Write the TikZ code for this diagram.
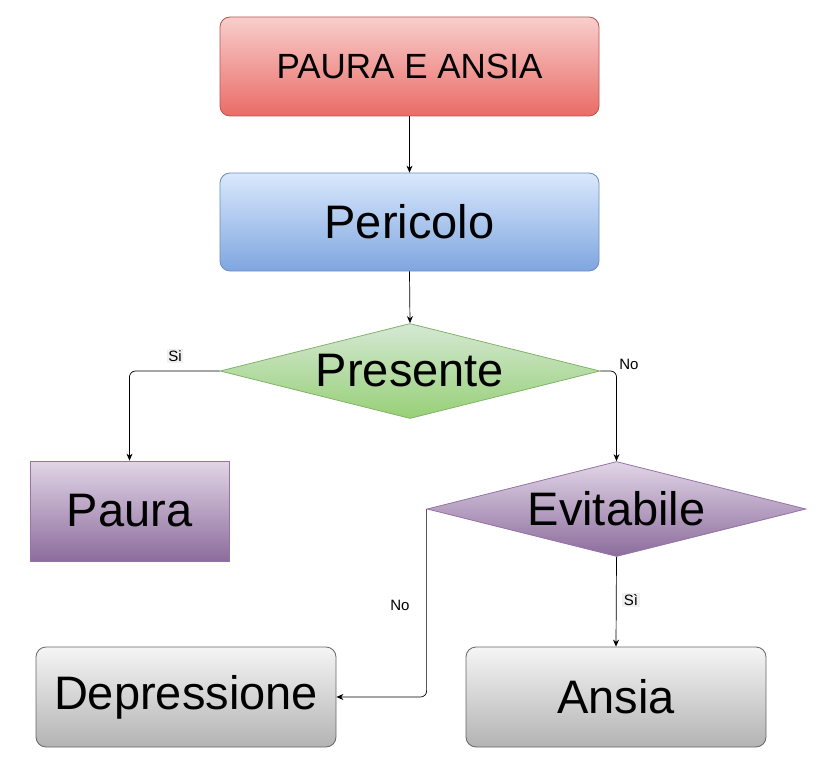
\documentclass[tikz,border=0pt]{standalone}
\usepackage{fontspec}
\setmainfont{Liberation Sans}
\usetikzlibrary{shapes.geometric,arrows.meta}
\definecolor{redT}{HTML}{F8CECC}\definecolor{redB}{HTML}{EA6B66}\definecolor{redS}{HTML}{B85450}
\definecolor{bluT}{HTML}{DAE8FC}\definecolor{bluB}{HTML}{7EA6E0}\definecolor{bluS}{HTML}{6C8EBF}
\definecolor{grnT}{HTML}{D5E8D4}\definecolor{grnB}{HTML}{97D077}\definecolor{grnS}{HTML}{82B366}
\definecolor{purT}{HTML}{E1D5E7}\definecolor{purB}{HTML}{8C6C9C}\definecolor{purS}{HTML}{9673A6}
\definecolor{gryT}{HTML}{F5F5F5}\definecolor{gryB}{HTML}{B3B3B3}\definecolor{gryS}{HTML}{666666}
\definecolor{lblbg}{HTML}{F0F0F0}
\tikzset{
  big/.style={font=\fontsize{47}{50}\selectfont},
  boxnode/.style={draw, line width=0.8pt, inner sep=0pt, minimum width=#1, minimum height=100pt},
  rbox/.style={boxnode=#1, rounded corners=10pt},
  dia/.style={diamond, draw, line width=0.8pt, inner sep=0pt, minimum width=380pt, minimum height=95pt, aspect=4},
  conn/.style={line width=0.7pt, rounded corners=6pt, -{Stealth[length=7pt,width=6pt]}},
  lbl/.style={font=\fontsize{15}{17}\selectfont, inner sep=1.5pt, fill=lblbg},
  lbln/.style={font=\fontsize{15}{17}\selectfont, inner sep=1.5pt}
}
\begin{document}
\begin{tikzpicture}[x=1pt,y=-1pt]
\useasboundingbox (0,0) rectangle (823,776);
\node[rbox=379pt, minimum height=99pt, top color=redT, bottom color=redB, draw=redS,
      font=\fontsize{35}{38}\selectfont] (title) at (409.5,66.5) {PAURA E ANSIA};
\node[rbox=379pt, minimum height=98pt, top color=bluT, bottom color=bluB, draw=bluS, big] (peric) at (409.5,222) {Pericolo};
\node[dia, top color=grnT, bottom color=grnB, draw=grnS, label={[big]center:Presente}] (pres) at (410,371) {};
\node[boxnode=199pt, top color=purT, bottom color=purB, draw=purS, big] (paura) at (129.5,511) {Paura};
\node[dia, top color=purT, bottom color=purB, draw=purS, minimum width=379pt, label={[big]center:Evitabile}] (evit) at (616.5,509) {};
\node[rbox=300pt, top color=gryT, bottom color=gryB, draw=gryS, big] (depr) at (186,697) {Depressione};
\node[rbox=300pt, top color=gryT, bottom color=gryB, draw=gryS, big] (ansia) at (616,697) {Ansia};

\draw[conn] (title.south) -- (peric.north);
\draw[conn] (peric.south) -- (pres.north);
\draw[conn] (pres.west) -| (paura.north);
\draw[conn] (pres.east) -| (evit.north);
\draw[conn] (evit.west) |- (depr.east);
\draw[conn] (evit.south) -- (ansia.north);

\node[lbl] (lsi1) at (175,356) {Si};
\node[lbln] (lno1) at (629,364) {No};
\node[lbln] (lno2) at (400,605) {No};
\node[lbl] (lsi2) at (631,600) {Sì};
\end{tikzpicture}
\end{document}
